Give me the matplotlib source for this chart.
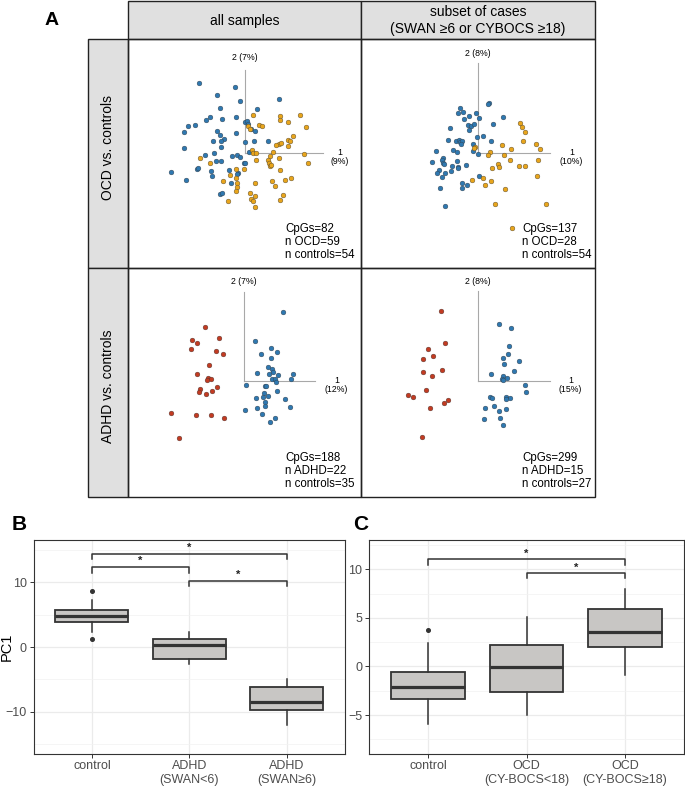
import matplotlib
matplotlib.use("Agg")
import matplotlib.pyplot as plt
import numpy as np
from matplotlib.patches import Rectangle

plt.rcParams['font.family'] = ['Liberation Sans', 'DejaVu Sans']

W, H = 685, 789

##################################################
# Panel A data: PCA scores (PC1, PC2)
##################################################
ocd_all_ctrl = [(-46, 70), (-10, 66), (-28, 58), (-5, 52), (34, 54), (-25, 45), (12, 44),
                (-35, 36), (-39, 33), (-23, 34), (-9, 36), (-57, 27), (-50, 28), (0, 31),
                (2, 32), (3, 29), (-61, 21), (-28, 22), (-25, 18), (-21, 14), (-9, 20),
                (6, 24), (10, 22), (-32, 12), (-24, 12), (0, 11), (9, 12), (23, 12),
                (-61, 5), (-24, 6), (-31, 0), (-40, -2), (4, 1), (-29, -8), (-24, -8),
                (-13, -3), (-8, -2), (-5, -4), (-1, -10), (0, -10), (-74, -19), (-48, -16),
                (-47, -15), (-34, -18), (-16, -17), (-7, -20), (-8, -21), (-59, -27),
                (-33, -23), (-14, -30), (-25, -41), (-23, -40)]
ocd_all_case = [(8, 38), (35, 37), (35, 33), (55, 38), (43, 31), (61, 26), (3, 27), (14, 28),
                (17, 27), (5, 24), (48, 17), (34, 9), (31, 8), (43, 13), (45, 12), (43, 7),
                (36, 10), (7, 3), (8, 0), (11, 0), (25, -3), (28, 1), (-45, -5), (-35, -10),
                (11, -7), (23, -7), (24, -10), (25, -13), (26, -12), (34, -5), (59, -1),
                (63, -10), (-1, -16), (-9, -16), (-15, -22), (-9, -25), (35, -17), (-22, -28),
                (-8, -30), (-8, -34), (10, -30), (27, -28), (30, -33), (40, -27), (46, -25),
                (-9, -38), (5, -40), (10, -43), (6, -46), (8, -48), (38, -42), (35, -47),
                (-17, -48), (10, -54)]

ocd_sub_ctrl = [(11, 50), (10, 49), (-18, 45), (-15, 41), (-20, 40), (-9, 37), (-2, 40),
                (25, 36), (-14, 34), (1, 35), (-10, 28), (-7, 27), (-4, 29), (15, 29),
                (-28, 25), (-9, 23), (-30, 13), (-22, 12), (-19, 13), (-18, 11), (-16, 12),
                (-17, 9), (-1, 16), (5, 17), (13, 12), (-5, 9), (-25, 3), (-21, 1), (-5, 2),
                (0, -1), (-42, 2), (-46, -9), (-35, -5), (-36, -7), (-35, -10), (-34, -11),
                (-26, -13), (-21, -8), (-20, -14), (-20, -15), (-12, -12), (-39, -17),
                (-41, -20), (-33, -20), (-27, -18), (-36, -24), (1, -23), (-16, -30),
                (-11, -32), (-16, -35), (-38, -35), (-33, -53)]
ocd_sub_case = [(-3, 6), (-4, 5), (42, 30), (44, 26), (47, 21), (45, 12), (24, 8), (33, 4),
                (58, 9), (62, 4), (12, 1), (10, -2), (26, -2), (32, -7), (60, -7), (14, -15),
                (20, -11), (21, -14), (41, -13), (47, -13), (-6, -27), (5, -25), (13, -28),
                (7, -32), (27, -36), (59, -23), (17, -51), (68, -51), (34, -75)]

adhd_all_case = [(-39, 54), (-52, 41), (-47, 38), (-25, 43), (-53, 32), (-28, 30), (-21, 27),
                 (-35, 16), (-47, 7), (-36, 3), (-33, 2), (-37, 1), (-27, -6), (-44, -8),
                 (-45, -11), (-32, -10), (-38, -13), (-73, -32), (-48, -34), (-33, -34),
                 (-20, -37), (-65, -57)]
adhd_all_ctrl = [(39, 69), (11, 40), (27, 33), (33, 29), (17, 27), (27, 23), (24, 14), (28, 12),
                 (29, 9), (25, 7), (13, 8), (34, 6), (49, 7), (47, 2), (28, 2), (31, 2),
                 (32, -1), (2, -4), (21, -5), (22, -5), (33, -10), (20, -12), (24, -15),
                 (19, -16), (12, -17), (21, -21), (21, -25), (41, -18), (46, -26), (13, -27),
                 (1, -29), (18, -33), (31, -37), (26, -41)]

adhd_sub_case = [(-37, 70), (-33, 38), (-50, 32), (-45, 25), (-55, 22), (-36, 11), (-55, 9),
                 (-46, 5), (-52, -9), (-70, -14), (-65, -16), (-30, -19), (-34, -22),
                 (-48, -27), (-56, -56)]
adhd_sub_ctrl = [(21, 57), (33, 53), (31, 35), (30, 27), (25, 23), (41, 20), (26, 17), (36, 10),
                 (13, 7), (25, 5), (29, 3), (24, 2), (25, 1), (47, -4), (48, -11), (12, -16),
                 (14, -17), (28, -16), (32, -17), (28, -18), (7, -27), (16, -25), (28, -28),
                 (21, -30), (6, -38), (22, -37), (25, -44)]

pc1_var = ['9%', '10%', '12%', '15%']
pc2_var = ['7%', '8%', '7%', '8%']
panel_stats = ['CpGs=82\nn OCD=59\nn controls=54',
               'CpGs=137\nn OCD=28\nn controls=54',
               'CpGs=188\nn ADHD=22\nn controls=35',
               'CpGs=299\nn ADHD=15\nn controls=27']
col_titles = ['all samples', 'subset of cases\n(SWAN \u22656 or CYBOCS \u226518)']
row_titles = ['OCD vs. controls', 'ADHD vs. controls']

##################################################
# Panel B / C data: PC1 box plot summaries
##################################################
b_groups = ['control', 'ADHD\n(SWAN<6)', 'ADHD\n(SWAN\u22656)']
b_q1 = [3.9, -1.9, -9.7]
b_med = [4.8, 0.25, -8.55]
b_q3 = [5.65, 1.3, -6.2]
b_lo = [2.25, -2.6, -12.05]
b_hi = [7.2, 2.25, -5.0]
b_out = [[8.65, 1.2], [], []]
b_pairs = [(1, 2), (1, 3), (2, 3)]
b_bracket = [12.35, 14.4, 10.25]

c_groups = ['control', 'OCD\n(CY-BOCS<18)', 'OCD\n(CY-BOCS\u226518)']
c_q1 = [-3.35, -2.65, 2.0]
c_med = [-2.15, -0.1, 3.5]
c_q3 = [-0.6, 2.2, 5.9]
c_lo = [-5.95, -5.0, -0.85]
c_hi = [2.4, 5.1, 8.0]
c_out = [[3.75], [], []]
c_pairs = [(1, 3), (2, 3)]
c_bracket = [11.0, 9.6]

BLUE = '#2f78b0'
ORANGE = '#e8a51c'
RED = '#c23b22'
HEAD_GRAY = '#e0e0e0'
LINE = '#222222'

fig = plt.figure(figsize=(W / 100, H / 100), dpi=100)


def px_axes(x0, y0, x1, y1):
    return fig.add_axes([x0 / W, 1 - y1 / H, (x1 - x0) / W, (y1 - y0) / H])


# overlay for the table frame and labels (pixel coordinates)
ov = fig.add_axes([0, 0, 1, 1])
ov.set_xlim(0, W)
ov.set_ylim(H, 0)
ov.axis('off')

cols = [(128, 361), (361, 595)]
rows = [(39, 268), (268, 497)]
for (x0, x1), t in zip(cols, col_titles):
    ov.add_patch(Rectangle((x0, 1), x1 - x0, 38, fc=HEAD_GRAY, ec=LINE, lw=1.0))
    ov.text((x0 + x1) / 2, 20.5, t, ha='center', va='center', fontsize=10, linespacing=1.2)
for (y0, y1), t, yc in zip(rows, row_titles, [147, 386]):
    ov.add_patch(Rectangle((88, y0), 40, y1 - y0, fc=HEAD_GRAY, ec=LINE, lw=1.0))
    ov.text(108.5, yc, t, ha='center', va='center', rotation=90, fontsize=10)
for y0, y1 in rows:
    for x0, x1 in cols:
        ov.add_patch(Rectangle((x0, y0), x1 - x0, y1 - y0, fc='none', ec=LINE, lw=1.0))
ov.text(52, 20, 'A', ha='center', va='center', fontsize=14, fontweight='bold')
ov.text(19, 524, 'B', ha='center', va='center', fontsize=15, fontweight='bold')
ov.text(360.5, 524.5, 'C', ha='center', va='center', fontsize=15, fontweight='bold')
ov.text(7, 647, 'PC1', ha='center', va='center', rotation=90, fontsize=10.5, color='black')

# scatter panels: cell, origin pixel, axis-line lengths, label offsets
panels = [
    dict(cell=(128, 39, 361, 268), org=(245, 153), v=83, h=78, ly=96, lx=95,
         groups=[(ocd_all_ctrl, BLUE), (ocd_all_case, ORANGE)], txt=(285, 223)),
    dict(cell=(361, 39, 595, 268), org=(477.5, 153), v=90, h=72, ly=100, lx=94,
         groups=[(ocd_sub_ctrl, BLUE), (ocd_sub_case, ORANGE)], txt=(522.5, 223)),
    dict(cell=(128, 268, 361, 497), org=(244.3, 381), v=89, h=71, ly=100, lx=92,
         groups=[(adhd_all_case, RED), (adhd_all_ctrl, BLUE)], txt=(285, 452)),
    dict(cell=(361, 268, 595, 497), org=(477.5, 381), v=90, h=72, ly=100, lx=93,
         groups=[(adhd_sub_case, RED), (adhd_sub_ctrl, BLUE)], txt=(522.5, 452)),
]

for i, p in enumerate(panels):
    x0, y0, x1, y1 = p['cell']
    ox, oy = p['org']
    ax = px_axes(x0 + 1, y0 + 1, x1 - 1, y1 - 1)
    ax.set_xlim(x0 + 1 - ox, x1 - 1 - ox)
    ax.set_ylim(oy - y1 + 1, oy - y0 - 1)
    ax.axis('off')
    ax.plot([0, 0], [0, p['v']], color='#a8a8a8', lw=0.8)
    ax.plot([0, p['h']], [0, 0], color='#a8a8a8', lw=0.8)
    ax.text(0, p['ly'], '2 (%s)' % pc2_var[i], ha='center', va='center', fontsize=6.3)
    ax.text(p['lx'], -4, '1\n(%s)' % pc1_var[i], ha='center', va='center', fontsize=6.3,
            linespacing=1.1)
    for pts, col in p['groups']:
        arr = np.array(pts, dtype=float)
        ax.scatter(arr[:, 0], arr[:, 1], s=12, color=col, edgecolors='#333333',
                   linewidths=0.25, zorder=3)
    tx, ty = p['txt']
    ov.text(tx, ty, panel_stats[i], ha='left', va='top', fontsize=8.3, linespacing=1.13)


def box_panel(ax, groups, q1, med, q3, lo, hi, out, pairs, heights, tip, ylim, major, minor):
    stats = []
    for k in range(len(groups)):
        stats.append(dict(q1=q1[k], med=med[k], q3=q3[k], whislo=lo[k], whishi=hi[k],
                          fliers=out[k], label=groups[k]))
    ax.set_xlim(0.4, 3.6)
    ax.set_ylim(*ylim)
    ax.set_yticks(major)
    ax.set_yticks(minor, minor=True)
    ax.set_xticks([1, 2, 3])
    ax.grid(True, which='major', color='#ebebeb', lw=0.9)
    ax.grid(True, which='minor', axis='y', color='#f2f2f2', lw=0.5)
    ax.set_axisbelow(True)
    ax.bxp(stats, positions=[1, 2, 3], widths=0.75, patch_artist=True, showcaps=False,
           boxprops=dict(facecolor='#c8c6c4', edgecolor='#333333', lw=1.3),
           medianprops=dict(color='#333333', lw=2.3),
           whiskerprops=dict(color='#333333', lw=1.1),
           flierprops=dict(marker='o', markersize=2.6, markerfacecolor='#333333',
                           markeredgecolor='#333333'))
    ax.set_xticks([1, 2, 3])
    ax.set_xticklabels(groups)
    for (a, b), h in zip(pairs, heights):
        ax.plot([a, a, b, b], [h - tip, h, h, h - tip], color='#333333', lw=1.1)
        ax.annotate('*', xy=((a + b) / 2, h), xytext=(0, 0.5), textcoords='offset points',
                    ha='center', va='bottom', fontsize=8, fontweight='bold', color='#222222')
    for s in ax.spines.values():
        s.set_color('#333333')
        s.set_linewidth(0.8)
    ax.tick_params(which='major', length=2.8, width=0.7, color='#333333', labelcolor='#4d4d4d',
                   labelsize=9)
    ax.tick_params(axis='x', pad=1.5)
    ax.tick_params(axis='y', pad=2)
    ax.tick_params(which='minor', length=0)


axb = px_axes(33.5, 540, 345, 754)
box_panel(axb, b_groups, b_q1, b_med, b_q3, b_lo, b_hi, b_out, b_pairs, b_bracket, 0.9,
          (-16.5, 16.5), [-10, 0, 10], [-15, -5, 5, 15])

axc = px_axes(369, 540, 684, 754)
box_panel(axc, c_groups, c_q1, c_med, c_q3, c_lo, c_hi, c_out, c_pairs, c_bracket, 0.55,
          (-9.0, 13.0), [-5, 0, 5, 10], [-7.5, -2.5, 2.5, 7.5, 12.5])

fig.savefig('out.png', dpi=100)
